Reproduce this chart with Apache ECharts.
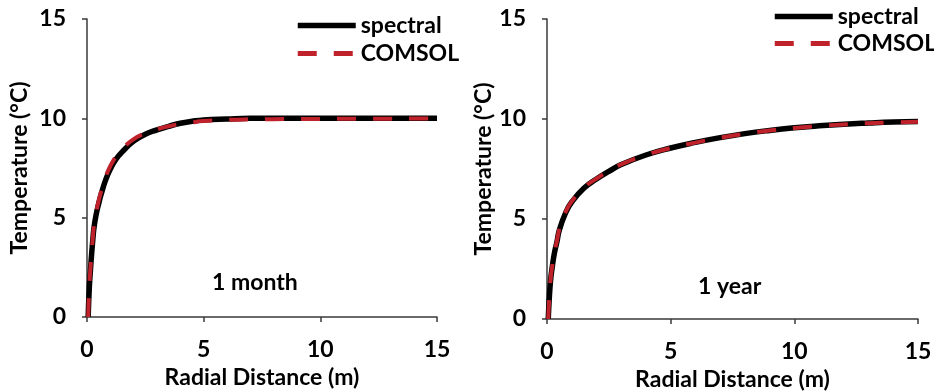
<!DOCTYPE html>
<html>
<head>
<meta charset="utf-8">
<script src="https://cdn.jsdelivr.net/npm/echarts@6/dist/echarts.min.js"></script>
<style>
  html, body { margin: 0; padding: 0; background: #fff; }
  #chart { width: 934px; height: 391px; }
</style>
</head>
<body>
<div id="chart"></div>
<script>
// Temperature profiles vs radial distance, 1 month and 1 year
const monthX        = [0.05, 0.1, 0.15, 0.2, 0.25, 0.3, 0.4, 0.5, 0.6, 0.8, 1.0, 1.25, 1.5, 2.0, 2.5, 3.0, 3.5, 4.0, 4.5, 5, 6, 7, 8, 9, 10, 11, 12, 13, 14, 15];
const monthSpectral = [0, 1.5, 2.4, 3.2, 3.9, 4.5, 5.2, 5.7, 6.15, 6.9, 7.45, 7.95, 8.3, 8.85, 9.2, 9.42, 9.6, 9.75, 9.85, 9.92, 9.97, 10.0, 10.0, 10.0, 10.0, 10.0, 10.0, 10.0, 10.0, 10.0];
const monthComsol   = [0, 1.6, 2.5, 3.3, 4.0, 4.6, 5.3, 5.85, 6.3, 7.05, 7.6, 8.1, 8.45, 8.95, 9.25, 9.45, 9.6, 9.72, 9.8, 9.86, 9.92, 9.95, 9.96, 9.97, 9.97, 9.98, 9.98, 9.98, 9.99, 9.99];

const yearX         = [0.05, 0.1, 0.15, 0.2, 0.3, 0.4, 0.5, 0.75, 1.0, 1.5, 2.0, 2.5, 3.0, 4.0, 5.0, 6.0, 7.0, 8.0, 9.0, 10.0, 11.0, 12.0, 13.0, 14.0, 15.0];
const yearSpectral  = [0, 1.2, 2.0, 2.5, 3.3, 3.85, 4.45, 5.3, 5.85, 6.55, 7.0, 7.38, 7.72, 8.2, 8.55, 8.83, 9.07, 9.27, 9.43, 9.56, 9.66, 9.74, 9.8, 9.85, 9.88];
const yearComsol    = [0, 1.25, 2.05, 2.55, 3.35, 3.9, 4.5, 5.35, 5.88, 6.57, 7.02, 7.4, 7.73, 8.2, 8.55, 8.82, 9.06, 9.26, 9.42, 9.55, 9.65, 9.73, 9.79, 9.83, 9.86];

const axisTicks = [0, 5, 10, 15];
const panelNotes = ['1 month', '1 year'];
const seriesNames = ['spectral', 'COMSOL'];

const FONT = 'Lato';
const FSIZE = 23;
const RED = '#C0222B';
const AXIS_COLOR = '#3a3a3a';

const pairs = (xs, ys) => xs.map((x, i) => [x, ys[i]]);

const textBase = { fontFamily: FONT, fontWeight: 'bold', fontSize: FSIZE, color: '#000' };

function xAxisFor(gridIndex) {
  return {
    type: 'value', gridIndex,
    min: axisTicks[0], max: axisTicks[axisTicks.length - 1], interval: 5,
    name: 'Radial Distance (m)', nameLocation: 'middle', nameGap: 42,
    nameTextStyle: Object.assign({}, textBase),
    axisLine: { show: true, onZero: false, lineStyle: { color: AXIS_COLOR, width: 1.5 } },
    axisTick: { show: true, inside: false, length: 5, lineStyle: { color: AXIS_COLOR, width: 1.5 } },
    axisLabel: Object.assign({ margin: 21 }, textBase),
    splitLine: { show: false }
  };
}
function yAxisFor(gridIndex, gap) {
  return {
    type: 'value', gridIndex,
    min: axisTicks[0], max: axisTicks[axisTicks.length - 1], interval: 5,
    name: 'Temperature (\u00B0C)', nameLocation: 'middle', nameGap: gap,
    nameTextStyle: Object.assign({}, textBase),
    axisLine: { show: true, onZero: false, lineStyle: { color: AXIS_COLOR, width: 1.5 } },
    axisTick: { show: true, inside: false, length: 5, lineStyle: { color: AXIS_COLOR, width: 1.5 } },
    axisLabel: Object.assign({ margin: 21 }, textBase),
    splitLine: { show: false }
  };
}

function solid(idx, data) {
  return {
    name: seriesNames[0], type: 'line', xAxisIndex: idx, yAxisIndex: idx,
    data, showSymbol: false, symbol: 'none', smooth: true, z: 2,
    lineStyle: { color: '#000', width: 5.5 }, itemStyle: { color: '#000' }
  };
}
function dashed(idx, data) {
  return {
    name: seriesNames[1], type: 'line', xAxisIndex: idx, yAxisIndex: idx,
    data, showSymbol: false, symbol: 'none', smooth: true, z: 3,
    lineStyle: { color: RED, width: 4, type: [19, 17], cap: 'butt' }, itemStyle: { color: RED }
  };
}

function legendFor(left, top, gap) {
  return {
    orient: 'vertical', left, top, padding: 0, itemWidth: 58, itemHeight: 14, itemGap: gap,
    data: [
      { name: seriesNames[0], itemStyle: { opacity: 0 }, lineStyle: { width: 5.5, color: '#000' } },
      { name: seriesNames[1], itemStyle: { opacity: 0 }, lineStyle: { width: 5, color: RED, type: [19, 17] } }
    ],
    textStyle: Object.assign({ padding: [0, 0, 0, 0] }, textBase),
    selectedMode: false
  };
}

const chart = echarts.init(document.getElementById('chart'), null, { renderer: 'canvas' });
chart.setOption({
  animation: false,
  backgroundColor: '#fff',
  grid: [
    { left: 87, top: 19, width: 350, height: 298, containLabel: false, outerBoundsMode: 'none' },
    { left: 547, top: 19, width: 371, height: 300, containLabel: false, outerBoundsMode: 'none' }
  ],
  xAxis: [xAxisFor(0), xAxisFor(1)],
  yAxis: [yAxisFor(0, 56), yAxisFor(1, 52)],
  legend: [legendFor(295, 14, 5), legendFor(772, 5, 4)],
  graphic: [
    { type: 'text', left: 212, top: 271, style: { text: panelNotes[0], font: 'bold ' + FSIZE + 'px ' + FONT, fill: '#000' } },
    { type: 'text', left: 698, top: 275, style: { text: panelNotes[1], font: 'bold ' + FSIZE + 'px ' + FONT, fill: '#000' } }
  ],
  series: [
    solid(0, pairs(monthX, monthSpectral)),
    dashed(0, pairs(monthX, monthComsol)),
    solid(1, pairs(yearX, yearSpectral)),
    dashed(1, pairs(yearX, yearComsol))
  ]
});
</script>
</body>
</html>
